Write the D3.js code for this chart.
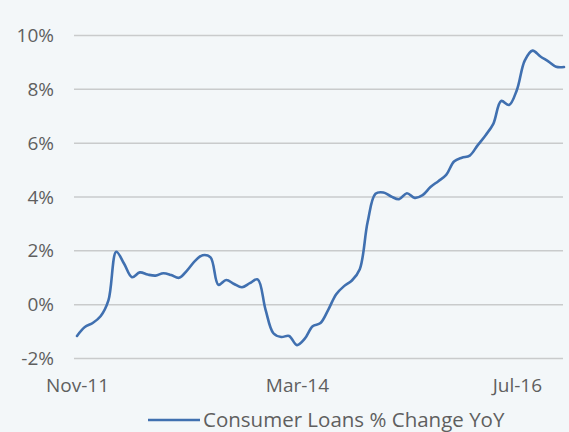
<!DOCTYPE html>
<html>
<head>
<meta charset="utf-8">
<script src="https://cdn.jsdelivr.net/npm/d3@7"></script>
<style>
  html, body { margin: 0; padding: 0; background: #f3f7f9; }
  svg { display: block; }
  text { font-family: "Open Sans", "Lato", sans-serif; fill: #5f5f5f; }
</style>
</head>
<body>
<svg id="chart" width="569" height="432"></svg>
<script>
// Monthly categories Nov-11 .. Jan-17
const months = [
  "Nov-11","Dec-11","Jan-12","Feb-12","Mar-12","Apr-12","May-12","Jun-12","Jul-12","Aug-12","Sep-12","Oct-12",
  "Nov-12","Dec-12","Jan-13","Feb-13","Mar-13","Apr-13","May-13","Jun-13","Jul-13","Aug-13","Sep-13","Oct-13",
  "Nov-13","Dec-13","Jan-14","Feb-14","Mar-14","Apr-14","May-14","Jun-14","Jul-14","Aug-14","Sep-14","Oct-14",
  "Nov-14","Dec-14","Jan-15","Feb-15","Mar-15","Apr-15","May-15","Jun-15","Jul-15","Aug-15","Sep-15","Oct-15",
  "Nov-15","Dec-15","Jan-16","Feb-16","Mar-16","Apr-16","May-16","Jun-16","Jul-16","Aug-16","Sep-16","Oct-16",
  "Nov-16","Dec-16","Jan-17"
];
// Consumer Loans % Change YoY
const values = [
  -1.18, -0.85, -0.70, -0.45, 0.14, 1.95, 1.50, 1.00, 1.18, 1.10, 1.06, 1.15,
  1.08, 0.98, 1.25, 1.60, 1.82, 1.74, 0.72, 0.90, 0.75, 0.63, 0.78, 0.92,
  -0.20, -1.08, -1.22, -1.18, -1.52, -1.28, -0.82, -0.70, -0.20, 0.37, 0.67, 0.88,
  1.30, 3.05, 4.10, 4.15, 4.00, 3.90, 4.12, 3.95, 4.05, 4.35, 4.57, 4.80,
  5.30, 5.44, 5.52, 5.90, 6.27, 6.70, 7.55, 7.40, 7.96, 9.05, 9.42, 9.20,
  9.02, 8.82, 8.81
];
const yTicks = [-2, 0, 2, 4, 6, 8, 10];
const xTickLabels = ["Nov-11", "Mar-14", "Jul-16"];
const seriesName = "Consumer Loans % Change YoY";

const svg = d3.select("#chart");
const mLeft = 74, mRight = 563, mTop = 35, mBottom = 358;

const x = d3.scalePoint().domain(months).range([77, 564]);
const y = d3.scaleLinear().domain([-2, 10]).range([mBottom, mTop]);

// Y axis + gridlines
const yAxis = svg.append("g")
  .attr("transform", `translate(${mLeft},0)`)
  .call(d3.axisLeft(y).tickValues(yTicks).tickFormat(d => d + "%").tickSize(-(mRight - mLeft)).tickPadding(20));
yAxis.select(".domain").remove();
yAxis.selectAll(".tick line").attr("stroke", "#c9cbcc").attr("stroke-width", 1.5);
yAxis.selectAll(".tick text").style("font-size", "19px").attr("dy", "0.35em");

// X axis labels
const xAxis = svg.append("g")
  .attr("transform", `translate(0,${mBottom})`)
  .call(d3.axisBottom(x).tickValues(xTickLabels).tickSize(0).tickPadding(21));
xAxis.select(".domain").remove();
xAxis.selectAll(".tick text").style("font-size", "19px");

// Line
const line = d3.line()
  .x((d, i) => x(months[i]))
  .y(d => y(d))
  .curve(d3.curveCatmullRom.alpha(0.5));
svg.append("path")
  .datum(values)
  .attr("fill", "none")
  .attr("stroke", "#4070b0")
  .attr("stroke-width", 2.6)
  .attr("stroke-linejoin", "round")
  .attr("stroke-linecap", "round")
  .attr("d", line);

// Legend
const lg = svg.append("g").attr("transform", "translate(148,420)");
lg.append("line").attr("x1", 0).attr("x2", 52).attr("y1", 0).attr("y2", 0)
  .attr("stroke", "#4070b0").attr("stroke-width", 2.6);
lg.append("text").attr("x", 55).attr("y", 0).attr("dy", "0.35em")
  .style("font-size", "20.5px").text(seriesName);
</script>
</body>
</html>
